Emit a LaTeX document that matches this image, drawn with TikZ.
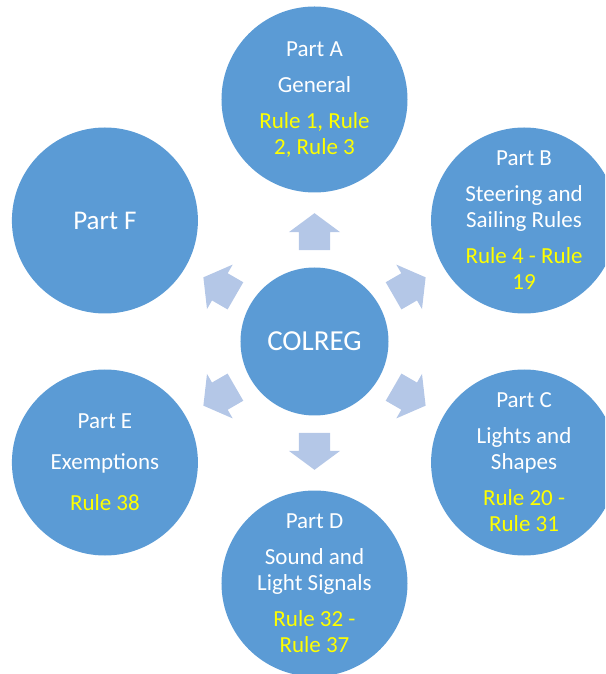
\documentclass[tikz,border=0pt]{standalone}
\usepackage{fontspec}
\setmainfont{Carlito}
\usetikzlibrary{shapes.arrows}
\definecolor{partblue}{HTML}{5B9BD5}
\definecolor{arrowblue}{HTML}{B4C7E7}
\definecolor{ruleyellow}{HTML}{FFFF00}
\newcommand{\rl}[1]{\textcolor{ruleyellow}{#1}}

\begin{document}
\begin{tikzpicture}[x=1pt, y=1pt,
  part/.style={circle, fill=partblue, text=white, minimum size=186pt, inner sep=0pt, align=center, font=\fontsize{23}{26}\selectfont},
  hub/.style={part, minimum size=148pt, font=\fontsize{29}{32}\selectfont},
  arr/.style={single arrow, fill=arrowblue, minimum height=37pt, inner xsep=0pt, inner ysep=15.5pt, single arrow head extend=10pt, single arrow tip angle=107}]
  \useasboundingbox (-314.5,-332.5) rectangle (290.5,341.5);
  \clip (-314.5,-332.5) rectangle (290.5,341.5);

  \node[hub] (col) at (0, 0) {COLREG};

  % parts round the hub
  \node[part] (pa) at (90:242) {Part A\\[10pt] General\\[10pt] \rl{Rule 1, Rule}\\ \rl{2, Rule 3}};
  \node[part] (pb) at (30:242) {Part B\\[10pt] Steering and\\ Sailing Rules\\[10pt] \rl{Rule 4 - Rule}\\ \rl{19}};
  \node[part] (pc) at (-30:242) {Part C\\[10pt] Lights and\\ Shapes\\[10pt] \rl{Rule 20 -}\\ \rl{Rule 31}};
  \node[part] (pd) at (-90:242) {Part D\\[10pt] Sound and\\ Light Signals\\[10pt] \rl{Rule 32 -}\\ \rl{Rule 37}};
  \node[part] (pe) at (-150:242) {Part E\\[15pt] Exemptions\\[15pt] \rl{Rule 38}};
  \node[part, font=\fontsize{27}{30}\selectfont] (pf) at (150:242) {Part F};

  % block arrows
  \foreach \ang/\nm in {90/a, 30/b, -30/c, -90/d, -150/e, 150/f}
    \node[arr, rotate=\ang] (ar\nm) at (\ang:104) {};
\end{tikzpicture}
\end{document}
